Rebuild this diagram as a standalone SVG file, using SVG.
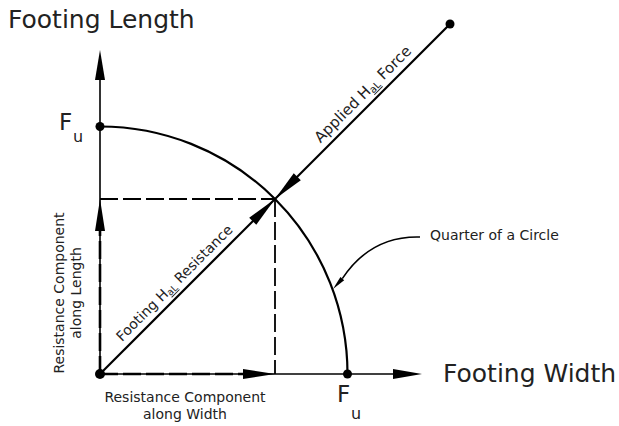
<svg xmlns="http://www.w3.org/2000/svg" width="619" height="426" viewBox="0 0 619 426">
<style>
  text { font-family: "DejaVu Sans", Verdana, sans-serif; fill: #222; }
  .big { font-size: 25px; }
  .fu { font-size: 23px; }
  .sub { font-size: 16px; }
  .lbl { font-size: 14px; }
  .ax { stroke: #000; stroke-width: 1.6; fill: none; }
  .dash { stroke: #000; stroke-width: 1.8; fill: none; stroke-dasharray: 18 5; }
  .dashb { stroke: #000; stroke-width: 2.6; fill: none; stroke-dasharray: 18 5; }
  .force { stroke: #000; stroke-width: 2.2; fill: none; }
  .head { fill: #000; stroke: none; }
</style>
<rect width="619" height="426" fill="#fff"/>

<g id="connectors">
  <!-- axes -->
  <line class="ax" x1="100" y1="374" x2="100" y2="78"/>
  <polygon class="head" points="100,50 95,80 105,80"/>
  <line class="ax" x1="100" y1="374" x2="395" y2="374"/>
  <polygon class="head" points="422,374 393,369 393,379"/>

  <!-- quarter circle -->
  <path class="force" d="M100,126.5 A247.5,247.5 0 0 1 347.5,374"/>

  <!-- dashed projection lines -->
  <line class="dash" x1="100" y1="199" x2="275" y2="199"/>
  <line class="dash" x1="275" y1="199" x2="275" y2="374"/>

  <!-- component arrows -->
  <line class="dashb" x1="100" y1="374" x2="100" y2="228"/>
  <polygon class="head" points="100,199 95,231 105,231"/>
  <line class="dashb" x1="100" y1="374" x2="246" y2="374"/>
  <polygon class="head" points="275,374 243,369 243,379"/>

  <!-- resistance and applied force along the diagonal -->
  <g transform="translate(100,374) rotate(-45)">
    <line class="force" x1="0" y1="0" x2="495" y2="0"/>
    <polygon class="head" points="247.5,0 216,-5 216,5"/>
    <polygon class="head" points="247.5,0 279,-5 279,5"/>
    <circle cx="495" cy="0" r="4.5" fill="#000"/>
  </g>

  <!-- leader -->
  <path d="M420,237 C385,236 360,252 342.3,278.6" stroke="#000" stroke-width="1.6" fill="none"/>
  <polygon class="head" points="333,289 344.2,280.3 340.4,276.9"/>
</g>

<g id="points">
  <circle cx="100" cy="374" r="5" fill="#000"/>
  <circle cx="100" cy="126.5" r="4.5" fill="#000"/>
  <circle cx="347.5" cy="374" r="4.5" fill="#000"/>
</g>

<g id="axis-labels">
  <text class="big" x="8" y="28">Footing Length</text>
  <text class="big" x="443" y="382">Footing Width</text>
  <text class="fu" x="59" y="130">F</text>
  <text class="sub" x="73" y="142">u</text>
  <text class="fu" x="337" y="402">F</text>
  <text class="sub" x="351" y="419">u</text>
</g>

<g id="diag-labels">
  <g transform="translate(100,374) rotate(-45)">
    <text class="lbl" x="38" y="-7">Footing H<tspan font-size="9.5" dy="2" text-decoration="underline">aL</tspan><tspan dy="-2"> Resistance</tspan></text>
    <text class="lbl" x="319" y="-7" style="font-size:15px">Applied H<tspan font-size="10" dy="2" text-decoration="underline">aL</tspan><tspan dy="-2"> Force</tspan></text>
  </g>
</g>

<g id="component-labels">
  <text class="lbl" x="185" y="402" text-anchor="middle">Resistance Component</text>
  <text class="lbl" x="185" y="419" text-anchor="middle">along Width</text>
  <g transform="translate(63.5,293) rotate(-90)">
    <text class="lbl" x="0" y="0" text-anchor="middle">Resistance Component</text>
    <text class="lbl" x="0" y="17.5" text-anchor="middle">along Length</text>
  </g>
  <text class="lbl" x="430" y="240">Quarter of a Circle</text>
</g>
</svg>
